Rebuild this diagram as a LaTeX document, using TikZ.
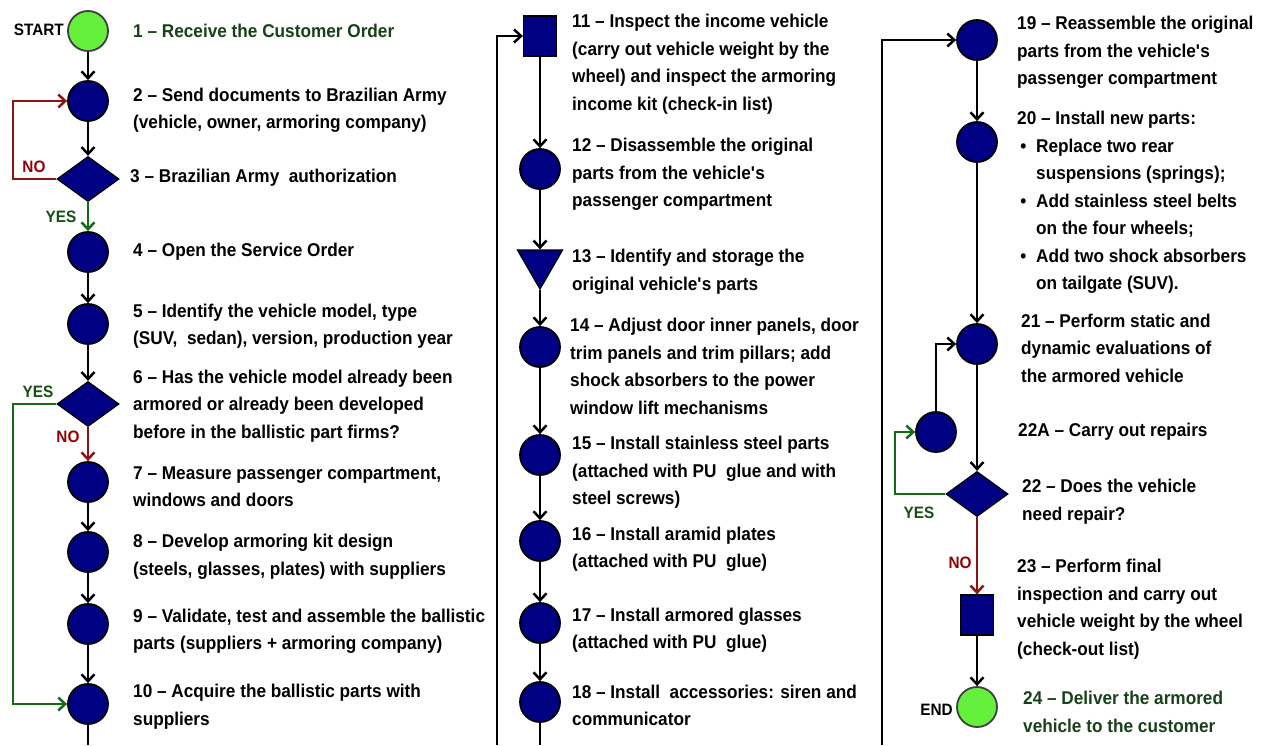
\documentclass[tikz,border=0pt]{standalone}
\usepackage{fontspec}
\setmainfont{Liberation Sans}[FakeStretch=0.93]
\usetikzlibrary{shapes.geometric,arrows.meta}
\definecolor{navy}{RGB}{0,0,130}
\definecolor{lgreen}{RGB}{100,240,60}
\definecolor{dgtext}{RGB}{25,65,25}
\definecolor{ygreen}{RGB}{20,105,20}
\definecolor{ylab}{RGB}{20,80,20}
\definecolor{nred}{RGB}{140,20,20}
\definecolor{nlab}{RGB}{150,0,0}
\newcommand{\apos}{\textquotesingle}
\begin{document}
\begin{tikzpicture}[x=1pt,y=-1pt,
  proc/.style={circle, draw=black, line width=1.8pt, fill=navy, minimum size=40pt, inner sep=0pt},
  term/.style={proc, fill=lgreen, draw=black!75},
  dec/.style={diamond, draw=black, line width=1.3pt, fill=navy, minimum width=62pt, minimum height=45pt, inner sep=0pt},
  insp/.style={rectangle, draw=black, line width=1.3pt, fill=navy, minimum width=33pt, minimum height=40pt, inner sep=0pt},
  stor/.style={regular polygon, regular polygon sides=3, shape border rotate=180, draw=black, line width=1.3pt, fill=navy, minimum size=52pt, inner sep=0pt},
  txt/.style={anchor=west, align=left, inner sep=0pt, font=\bfseries\fontsize{18.5}{27.5}\selectfont},
  lab/.style={inner sep=0pt, font=\bfseries\fontsize{16.5}{18}\selectfont},
  plain/.style={line width=2.7pt, draw=black},
  flow/.style={plain, -{Straight Barb[length=7pt,width=13pt,line width=2.5pt]}},
  yesflow/.style={flow, draw=ygreen},
  noflow/.style={flow, draw=nred}
]
\useasboundingbox[fill=white] (0,0) rectangle (1266,745);

% ---------- column 1 ----------
\node[term] (n1) at (88,31) {};
\node[proc] (n2) at (88,101) {};
\node[dec]  (d3) at (88,179) {};
\node[proc] (n4) at (88,252) {};
\node[proc] (n5) at (88,324) {};
\node[dec]  (d6) at (88,404) {};
\node[proc] (n7) at (88,482) {};
\node[proc] (n8) at (88,552) {};
\node[proc] (n9) at (88,624) {};
\node[proc] (n10) at (88,704) {};
\coordinate (c1bot) at (88,745);

\node[lab, anchor=east] (lstart) at (64,30) {START};
\node[lab, text=nlab] (lno1) at (34,167) {NO};
\node[lab, text=ylab] (lyes1) at (61,217) {YES};
\node[lab, text=ylab] (lyes2) at (38,392) {YES};
\node[lab, text=nlab] (lno2) at (68,437) {NO};

\node[txt, text=dgtext] (t1) at (133,31) {1 -- Receive the Customer Order};
\node[txt] (t2) at (133,110.5) {2 -- Send documents to Brazilian Army\\(vehicle, owner, armoring company)};
\node[txt] (t3) at (130,178) {3 -- Brazilian Army\ \ authorization};
\node[txt] (t4) at (133,252) {4 -- Open the Service Order};
\node[txt] (t5) at (133,326) {5 -- Identify the vehicle model, type\\(SUV,\ \ sedan), version, production year};
\node[txt] (t6) at (133,406) {6 -- Has the vehicle model already been\\armored or already been developed\\before in the ballistic part firms?};
\node[txt] (t7) at (133,486.5) {7 -- Measure passenger compartment,\\windows and doors};
\node[txt] (t8) at (133,556.5) {8 -- Develop armoring kit design\\(steels, glasses, plates) with suppliers};
\node[txt] (t9) at (133,631) {9 -- Validate, test and assemble the ballistic\\parts (suppliers + armoring company)};
\node[txt] (t10) at (133,706.5) {10 -- Acquire the ballistic parts with\\suppliers};

\draw[flow] (n1) -- (n2);
\draw[flow] (n2) -- (d3);
\draw[yesflow] (d3) -- (n4);
\draw[noflow] (d3.west) -- (13,179) |- (n2);
\draw[flow] (n4) -- (n5);
\draw[flow] (n5) -- (d6);
\draw[noflow] (d6) -- (n7);
\draw[yesflow] (d6.west) -- (13,404) |- (n10);
\draw[flow] (n7) -- (n8);
\draw[flow] (n8) -- (n9);
\draw[flow] (n9) -- (n10);
\draw[plain] (n10) -- (c1bot);

% ---------- column 2 ----------
\node[insp] (s11) at (540,36) {};
\node[proc] (n12) at (540,169) {};
\node[stor] (t13) at (540,263) {};
\node[proc] (n14) at (540,347) {};
\node[proc] (n15) at (540,455) {};
\node[proc] (n16) at (540,541) {};
\node[proc] (n17) at (540,623) {};
\node[proc] (n18) at (540,702) {};
\coordinate (c2bot) at (497,745);
\coordinate (c2end) at (540,745);

\node[txt] (x11) at (572,64) {11 -- Inspect the income vehicle\\(carry out vehicle weight by the\\wheel) and inspect the armoring\\income kit (check-in list)};
\node[txt] (x12) at (572,174.5) {12 -- Disassemble the original\\parts from the vehicle\apos s\\passenger compartment};
\node[txt] (x13) at (572,272) {13 -- Identify and storage the\\original vehicle\apos s parts};
\node[txt] (x14) at (570,366.5) {14 -- Adjust door inner panels, door\\trim panels and trim pillars; add\\shock absorbers to the power\\window lift mechanisms};
\node[txt] (x15) at (572,472.5) {15 -- Install stainless steel parts\\(attached with PU\ \ glue and with\\steel screws)};
\node[txt] (x16) at (572,549) {16 -- Install aramid plates\\(attached with PU\ \ glue)};
\node[txt] (x17) at (572,630) {17 -- Install armored glasses\\(attached with PU\ \ glue)};
\node[txt] (x18) at (572,705.5) {18 -- Install\ \ accessories: siren and\\communicator};

\draw[flow] (c2bot) |- (s11);
\draw[flow] (s11) -- (n12);
\draw[flow] (n12) -- (t13);
\draw[flow] (t13) -- (n14);
\draw[flow] (n14) -- (n15);
\draw[flow] (n15) -- (n16);
\draw[flow] (n16) -- (n17);
\draw[flow] (n17) -- (n18);
\draw[plain] (n18) -- (c2end);

% ---------- column 3 ----------
\node[proc] (n19) at (977,40) {};
\node[proc] (n20) at (977,142) {};
\node[proc] (n21) at (977,344) {};
\node[proc] (r22a) at (936,432) {};
\node[dec]  (d22) at (977,494) {};
\node[insp] (s23) at (977,615) {};
\node[term] (n24) at (977,707) {};
\coordinate (c3bot) at (882,745);

\node[lab, anchor=east] (lend) at (953,710) {END};
\node[lab, text=ylab] (lyes3) at (919,513) {YES};
\node[lab, text=nlab] (lno3) at (960,563) {NO};

\node[txt] (x19) at (1017,52.5) {19 -- Reassemble the original\\parts from the vehicle\apos s\\passenger compartment};
\node[txt] (x20) at (1017,202.5) {20 -- Install new parts:\\
\makebox[19pt][l]{\,\textbullet}Replace two rear\\\hspace*{19pt}suspensions (springs);\\
\makebox[19pt][l]{\,\textbullet}Add stainless steel belts\\\hspace*{19pt}on the four wheels;\\
\makebox[19pt][l]{\,\textbullet}Add two shock absorbers\\\hspace*{19pt}on tailgate (SUV).};
\node[txt] (x21) at (1021,348) {21 -- Perform static and\\dynamic evaluations of\\the armored vehicle};
\node[txt] (x22a) at (1018,432) {22A -- Carry out repairs};
\node[txt] (x22) at (1022,501.5) {22 -- Does the vehicle\\need repair?};
\node[txt] (x23) at (1017,609) {23 -- Perform final\\inspection and carry out\\vehicle weight by the wheel\\(check-out list)};
\node[txt, text=dgtext] (x24) at (1023,712) {24 -- Deliver the armored\\vehicle to the customer};

\draw[flow] (c3bot) |- (n19);
\draw[flow] (n19) -- (n20);
\draw[flow] (n20) -- (n21);
\draw[flow] (n21) -- (d22);
\draw[yesflow] (d22.west) -- (895,494) |- (r22a);
\draw[flow] (r22a) |- (n21);
\draw[noflow] (d22) -- (s23);
\draw[flow] (s23) -- (n24);
\end{tikzpicture}
\end{document}
